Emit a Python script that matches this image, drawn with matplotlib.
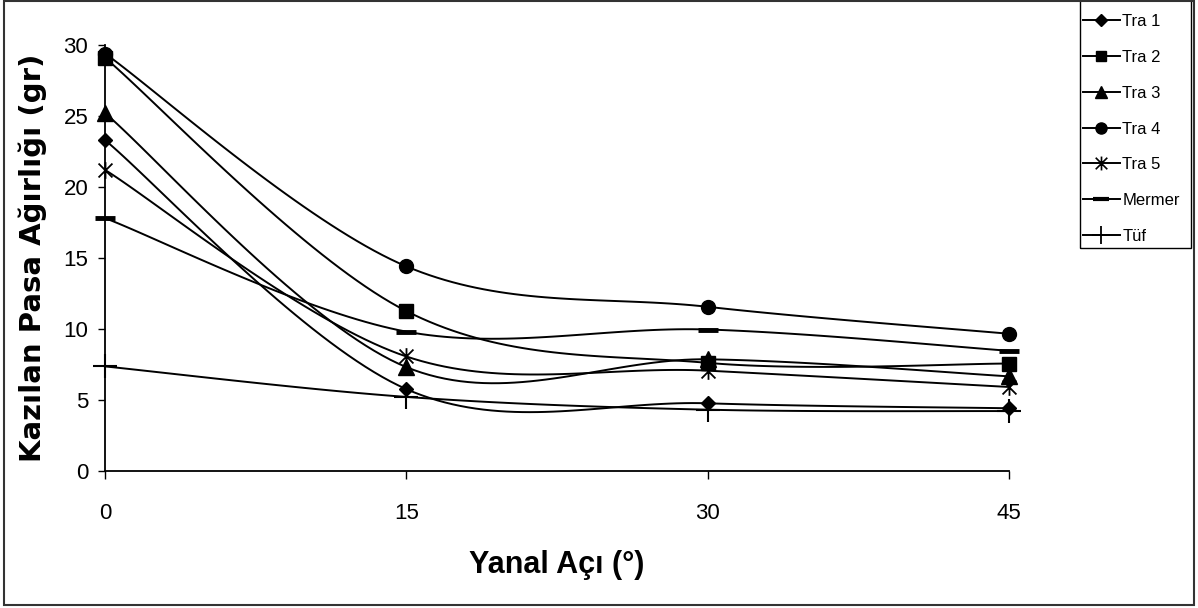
import numpy as np
import matplotlib
matplotlib.use("Agg")
import matplotlib.pyplot as plt
from matplotlib.path import Path
from matplotlib.patches import Rectangle

# lateral angle (degrees) and excavated muck weight (g) per rock
angles = [0, 15, 30, 45]
tra1 = [23.3, 5.75, 4.75, 4.4]
tra2 = [29.1, 11.25, 7.6, 7.55]
tra3 = [25.2, 7.3, 7.85, 6.65]
tra4 = [29.4, 14.4, 11.55, 9.65]
tra5 = [21.2, 8.05, 7.05, 5.9]
mermer = [17.8, 9.8, 9.95, 8.45]
tuf = [7.35, 5.2, 4.3, 4.2]

names = ["Tra 1", "Tra 2", "Tra 3", "Tra 4", "Tra 5", "Mermer", "Tüf"]
series = [tra1, tra2, tra3, tra4, tra5, mermer, tuf]

sans = ["Liberation Sans", "DejaVu Sans"]

# asterisk marker: X with a vertical bar
star = Path([(-1, -1), (1, 1), (-1, 1), (1, -1), (0, -1.2), (0, 1.2)],
            [Path.MOVETO, Path.LINETO, Path.MOVETO, Path.LINETO,
             Path.MOVETO, Path.LINETO])

styles = [
    dict(marker="D", ms=7.5),
    dict(marker="s", ms=9.5),
    dict(marker="^", ms=11),
    dict(marker="o", ms=10),
    dict(marker=star, ms=12, mew=1.3),
    dict(marker="_", ms=15, mew=3.5),
    dict(marker="+", ms=17, mew=1.5),
]
leg_styles = [
    dict(marker="D", ms=6.5),
    dict(marker="s", ms=7.5),
    dict(marker="^", ms=9),
    dict(marker="o", ms=8),
    dict(marker=star, ms=10, mew=1.2),
    dict(marker="_", ms=11, mew=3),
    dict(marker="+", ms=13, mew=1.3),
]


def smooth(xs, ys, n=40):
    # Excel-like smoothed line: cubic bezier segments, catmull-rom controls
    p = np.column_stack([xs, ys]).astype(float)
    out = []
    for i in range(len(p) - 1):
        p0 = p[i - 1] if i > 0 else p[i]
        p3 = p[i + 2] if i + 2 < len(p) else p[i + 1]
        c1 = p[i] + (p[i + 1] - p0) / 6
        c2 = p[i + 1] - (p3 - p[i]) / 6
        t = np.linspace(0, 1, n)[:, None]
        seg = ((1 - t) ** 3 * p[i] + 3 * (1 - t) ** 2 * t * c1
               + 3 * (1 - t) * t ** 2 * c2 + t ** 3 * p[i + 1])
        out.append(seg if i == 0 else seg[1:])
    return np.vstack(out)


fig = plt.figure(figsize=(11.98, 6.08), dpi=100)
ax = fig.add_axes([105 / 1198, 137.3 / 608, 904 / 1198, 425.7 / 608])

handles = []
for name, ys, st, lst in zip(names, series, styles, leg_styles):
    curve = smooth(angles, ys)
    ax.plot(curve[:, 0], curve[:, 1], color="black", lw=1.4, clip_on=False)
    ax.plot(angles, ys, ls="none", color="black", mfc="black", mec="black",
            clip_on=False, zorder=3, **st)
    h, = ax.plot([], [], color="black", lw=1.4, mfc="black", mec="black",
                 label=name, **lst)
    handles.append(h)

ax.set_xlim(0, 45)
ax.set_ylim(0, 30)
ax.set_xticks(angles)
ax.set_yticks(range(0, 31, 5))
for s in ["top", "right"]:
    ax.spines[s].set_visible(False)
for s in ["left", "bottom"]:
    ax.spines[s].set_linewidth(1.3)
ax.tick_params(axis="x", direction="out", length=6, width=1, pad=17)
ax.tick_params(axis="y", direction="out", length=5, width=1, pad=7)
for lab in ax.get_xticklabels() + ax.get_yticklabels():
    lab.set_family(sans)
    lab.set_fontsize(16)

ax.set_xlabel("Yanal Açı (°)", family=sans, fontsize=22, fontweight="bold",
              labelpad=19)
ax.set_ylabel("Kazılan Pasa Ağırlığı (gr)", family="DejaVu Sans",
              fontsize=21, fontweight="bold", labelpad=12)

leg = fig.legend(handles=handles, loc="upper left",
                 bbox_to_anchor=(1083 / 1198, 1 - 14 / 608),
                 prop={"family": sans, "size": 12},
                 frameon=False, handlelength=2.2, handletextpad=0.15,
                 labelspacing=1.25, borderpad=0, borderaxespad=0)

# legend frame
fig.patches.append(Rectangle((1080 / 1198, 1 - 248 / 608), 111 / 1198,
                             250 / 608, transform=fig.transFigure,
                             fill=False, edgecolor="black", lw=1.0))
# chart border
fig.patches.append(Rectangle((4 / 1198, 3 / 608), 1190 / 1198, 604 / 608,
                             transform=fig.transFigure, fill=False,
                             edgecolor="#333333", lw=1.5))

fig.savefig("out.png", dpi=100)
